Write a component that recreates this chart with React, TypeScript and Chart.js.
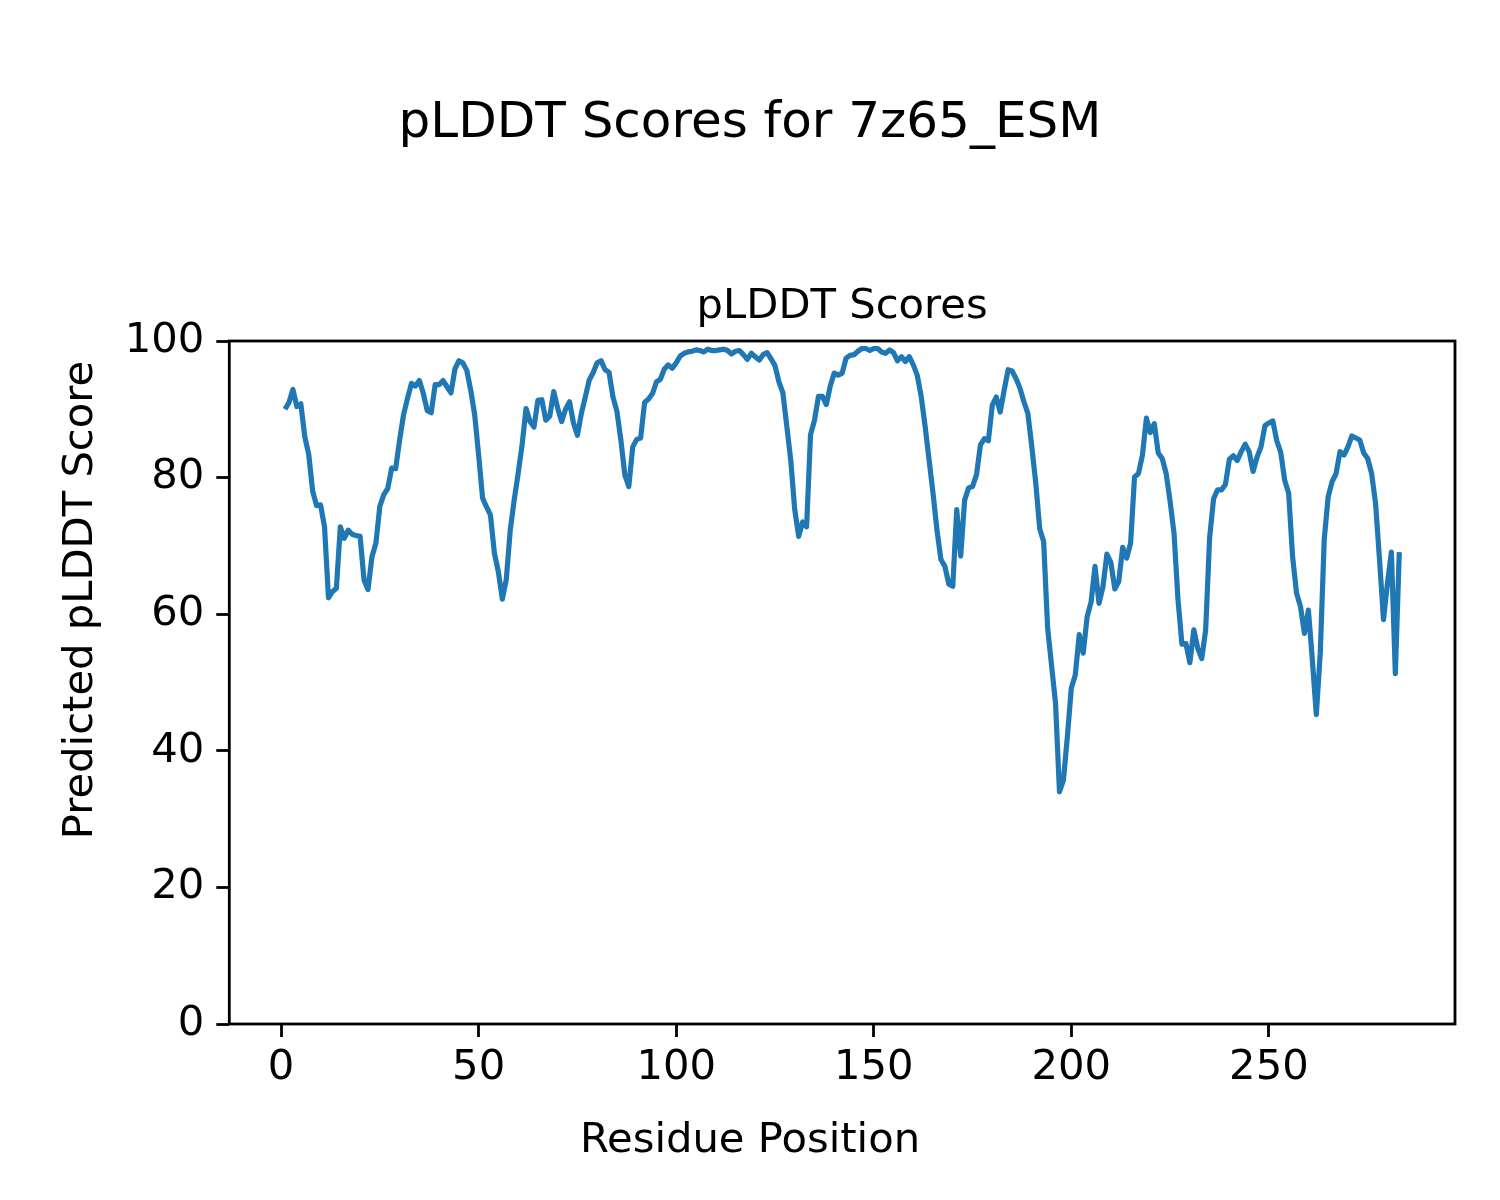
import React, { useEffect, useRef } from "react";
import { Chart, registerables } from "chart.js";

Chart.register(...registerables);

const figureTitle = "pLDDT Scores for 7z65_ESM";
const axesTitle = "pLDDT Scores";
const xAxisLabel = "Residue Position";
const yAxisLabel = "Predicted pLDDT Score";

const xTickValues = [0, 50, 100, 150, 200, 250];
const yTickValues = [0, 20, 40, 60, 80, 100];

const plddtScores = [
  90.0, 91.0, 92.9, 90.4, 90.8, 86.0, 83.4, 78.0, 75.9, 76.0,
  72.8, 62.4, 63.3, 63.8, 72.8, 71.1, 72.3, 71.7, 71.5, 71.4,
  65.0, 63.6, 68.4, 70.4, 75.8, 77.5, 78.4, 81.4, 81.3, 85.5,
  89.2, 91.6, 93.8, 93.4, 94.2, 92.3, 89.8, 89.5, 93.6, 93.6,
  94.2, 93.3, 92.4, 95.9, 97.1, 96.8, 95.7, 92.8, 89.2, 83.3,
  77.0, 75.7, 74.5, 68.9, 66.2, 62.2, 65.1, 72.3, 76.7, 80.6,
  84.8, 90.1, 88.2, 87.4, 91.3, 91.4, 88.4, 89.0, 92.6, 90.2,
  88.2, 90.0, 91.1, 88.0, 86.2, 89.4, 91.8, 94.3, 95.4, 96.8,
  97.1, 95.8, 95.4, 91.8, 89.7, 85.5, 80.4, 78.7, 84.5, 85.6,
  85.8, 91.0, 91.5, 92.3, 94.0, 94.4, 95.9, 96.5, 96.0, 96.8,
  97.8, 98.2, 98.4, 98.5, 98.7, 98.6, 98.4, 98.8, 98.6, 98.6,
  98.7, 98.8, 98.6, 98.1, 98.5, 98.6, 98.0, 97.3, 98.2, 97.7,
  97.2, 98.0, 98.3, 97.4, 96.4, 94.0, 92.4, 87.5, 82.5, 75.3,
  71.4, 73.5, 72.8, 86.3, 88.4, 91.9, 91.9, 90.7, 93.4, 95.3,
  95.0, 95.3, 97.5, 97.9, 98.0, 98.5, 98.9, 98.9, 98.6, 98.9,
  98.9, 98.4, 98.2, 98.7, 98.3, 97.1, 97.7, 97.0, 97.7, 96.5,
  95.0, 91.9, 87.5, 82.6, 77.7, 72.3, 68.0, 67.0, 64.4, 64.1,
  75.3, 68.5, 76.7, 78.5, 78.7, 80.4, 84.8, 85.7, 85.4, 90.6,
  91.8, 89.6, 92.8, 95.8, 95.6, 94.5, 93.1, 91.1, 89.4, 84.5,
  79.2, 72.5, 70.6, 58.0, 52.5, 47.0, 34.0, 35.7, 42.1, 49.2,
  51.1, 57.0, 54.3, 59.6, 61.8, 67.0, 61.6, 64.0, 68.8, 67.6,
  63.7, 64.8, 69.8, 68.2, 70.4, 80.1, 80.6, 83.3, 88.7, 86.6,
  87.9, 83.6, 82.8, 80.6, 76.5, 71.8, 62.1, 55.6, 55.7, 52.9,
  57.7, 55.0, 53.5, 57.7, 71.2, 76.9, 78.2, 78.2, 79.0, 82.7,
  83.2, 82.5, 83.8, 84.9, 83.8, 80.9, 83.0, 84.5, 87.6, 88.0,
  88.3, 85.4, 83.7, 79.6, 77.7, 68.4, 63.1, 61.1, 57.2, 60.6,
  53.3, 45.3, 54.3, 70.9, 77.2, 79.4, 80.6, 83.8, 83.3, 84.5,
  86.1, 85.8, 85.5, 83.6, 82.8, 80.6, 76.2, 68.0, 59.2, 64.5,
  69.1, 51.3, 69.1,
];

const residuePositions = plddtScores.map((_, i) => i + 1);

const FONT = '"DejaVu Sans", "Liberation Sans", sans-serif';

export default function App() {
  const canvasRef = useRef<HTMLCanvasElement | null>(null);

  useEffect(() => {
    const canvas = canvasRef.current;
    if (!canvas) return;

    const textPlugin = {
      id: "figureText",
      afterDraw(chart: any) {
        const ctx = chart.ctx;
        const area = chart.chartArea;
        ctx.save();
        // spines
        ctx.strokeStyle = "#000";
        ctx.lineWidth = 2.8;
        ctx.strokeRect(area.left, area.top, area.right - area.left, area.bottom - area.top);
        ctx.fillStyle = "#000";
        ctx.textBaseline = "alphabetic";
        ctx.textAlign = "center";
        ctx.font = `50px ${FONT}`;
        ctx.fillText(figureTitle, 750, 137);
        ctx.font = `41.7px ${FONT}`;
        ctx.fillText(axesTitle, (area.left + area.right) / 2, 318);
        ctx.fillText(xAxisLabel, 750, 1152);
        ctx.translate(92, 600);
        ctx.rotate(-Math.PI / 2);
        ctx.fillText(yAxisLabel, 0, 0);
        ctx.restore();
      },
    };

    const chart = new Chart(canvas, {
      type: "line",
      data: {
        datasets: [
          {
            data: residuePositions.map((x, i) => ({ x, y: plddtScores[i] })),
            borderColor: "#1f77b4",
            borderWidth: 5.2,
            pointRadius: 0,
            tension: 0,
            fill: false,
            borderJoinStyle: "round",
            borderCapStyle: "butt",
          },
        ],
      },
      options: {
        animation: false,
        responsive: false,
        devicePixelRatio: 1,
        layout: { padding: { top: 341, left: 0, right: 45, bottom: 0 } },
        plugins: { legend: { display: false }, title: { display: false }, tooltip: { enabled: false } },
        scales: {
          x: {
            type: "linear",
            min: -13.1,
            max: 297.1,
            afterBuildTicks: (axis: any) => {
              axis.ticks = xTickValues.map((v) => ({ value: v }));
            },
            afterFit: (axis: any) => {
              axis.height = 176;
            },
            border: { display: false },
            grid: {
              display: true,
              drawOnChartArea: false,
              drawTicks: true,
              tickLength: 13,
              tickWidth: 2.8,
              tickColor: "#000",
            },
            ticks: {
              color: "#000",
              font: { family: FONT, size: 41.7 },
              padding: 6,
              maxRotation: 0,
              autoSkip: false,
            },
          },
          y: {
            type: "linear",
            min: 0,
            max: 100,
            afterBuildTicks: (axis: any) => {
              axis.ticks = yTickValues.map((v) => ({ value: v }));
            },
            afterFit: (axis: any) => {
              axis.width = 229.3;
            },
            border: { display: false },
            grid: {
              display: true,
              drawOnChartArea: false,
              drawTicks: true,
              tickLength: 13,
              tickWidth: 2.8,
              tickColor: "#000",
            },
            ticks: {
              color: "#000",
              font: { family: FONT, size: 41.7 },
              padding: 12,
              autoSkip: false,
            },
          },
        },
      },
      plugins: [textPlugin],
    } as any);

    return () => chart.destroy();
  }, []);

  return (
    <div style={{ position: "absolute", left: 0, top: 0, width: 1500, height: 1200, background: "#fff" }}>
      <canvas ref={canvasRef} width={1500} height={1200} style={{ display: "block" }} />
    </div>
  );
}
